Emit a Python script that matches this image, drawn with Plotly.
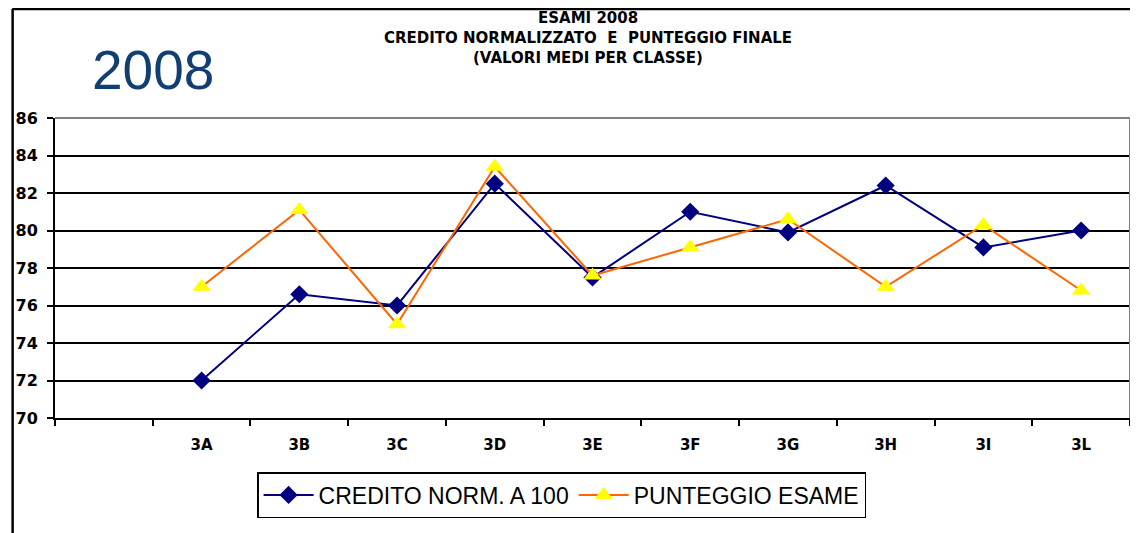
import plotly.graph_objects as go

# Classes (first slot is an empty category, as in the original sheet)
classes = [" ", "3A", "3B", "3C", "3D", "3E", "3F", "3G", "3H", "3I", "3L"]
credito = [None, 72.0, 76.6, 76.0, 82.5, 77.5, 81.0, 79.9, 82.4, 79.1, 80.0]
punteggio = [None, 77.0, 81.1, 75.0, 83.4, 77.6, 79.1, 80.6, 77.0, 80.3, 76.8]

# page has an 8px body margin: lay out in page pixels and shift
OFF = 8
W, H = 1138 - OFF, 533 - OFF
L, R, T, B = 52 - OFF, 1130 - OFF, 118 - OFF, 418 - OFF
BOLD = "DejaVu Sans"
REG = "Liberation Sans, Arial"


def px(x):
    return (x - OFF - L) / (R - L)


def py(y):
    return (B - (y - OFF)) / (B - T)


fig = go.Figure()
fig.add_trace(
    go.Scatter(
        x=classes,
        y=credito,
        name="CREDITO NORM. A 100",
        mode="lines+markers",
        line=dict(color="#000080", width=2),
        marker=dict(symbol="diamond", size=14, color="#000080"),
    )
)
fig.add_trace(
    go.Scatter(
        x=classes,
        y=punteggio,
        name="PUNTEGGIO ESAME",
        mode="lines+markers",
        line=dict(color="#FF6600", width=2),
        marker=dict(symbol="triangle-up", size=16, color="#FFFF00"),
    )
)

shapes = [
    # outer frame (top and left)
    dict(type="line", xref="paper", yref="paper", x0=px(9), x1=px(1137), y0=py(9), y1=py(9),
         line=dict(color="black", width=2.5)),
    dict(type="line", xref="paper", yref="paper", x0=px(9.5), x1=px(9.5), y0=py(9), y1=py(540),
         line=dict(color="black", width=2.5)),
    # plot area border top/right in gray
    dict(type="line", xref="paper", yref="paper", x0=0, x1=1, y0=1, y1=1,
         line=dict(color="#808080", width=2), layer="above"),
    dict(type="line", xref="paper", yref="paper", x0=1, x1=1, y0=0, y1=1,
         line=dict(color="#808080", width=2), layer="above"),
]

title_lines = [
    "ESAMI 2008",
    "CREDITO NORMALIZZATO&nbsp; E&nbsp; PUNTEGGIO FINALE",
    "(VALORI MEDI PER CLASSE)",
]
annotations = [
    dict(text=t, xref="paper", yref="paper", x=px(586), y=py(18 + 20 * i), showarrow=False,
         xanchor="center", yanchor="middle", font=dict(family=BOLD, size=15, color="black", weight="bold"))
    for i, t in enumerate(title_lines)
]
annotations.append(
    dict(text="2008", xref="paper", yref="paper", x=px(150), y=py(70), showarrow=False,
         xanchor="center", yanchor="middle", font=dict(family=REG, size=55, color="#123F73"))
)

fig.update_layout(
    width=W,
    height=H,
    margin=dict(l=L, r=W - R, t=T, b=H - B),
    plot_bgcolor="white",
    paper_bgcolor="white",
    showlegend=True,
    legend=dict(
        orientation="h",
        x=px(560),
        y=py(495),
        xanchor="center",
        yanchor="middle",
        bordercolor="black",
        borderwidth=1.5,
        font=dict(family=REG, size=23, color="black"),
        itemwidth=50,
        tracegroupgap=0,
    ),
    xaxis=dict(
        type="category",
        categoryorder="array",
        categoryarray=classes,
        range=[-0.5, len(classes) - 0.5],
        showgrid=False,
        showline=True,
        linecolor="black",
        linewidth=2,
        ticks="outside",
        tickson="boundaries",
        ticklen=6,
        tickwidth=1.5,
        tickcolor="black",
        ticklabelstandoff=12,
        tickfont=dict(family=BOLD, size=15, color="black", weight="bold"),
        zeroline=False,
    ),
    yaxis=dict(
        range=[70, 86],
        dtick=2,
        showgrid=True,
        gridcolor="black",
        gridwidth=1.5,
        showline=True,
        linecolor="black",
        linewidth=2,
        ticks="outside",
        ticklen=6,
        tickwidth=1.5,
        tickcolor="black",
        ticklabelstandoff=6,
        tickfont=dict(family=BOLD, size=16, color="black", weight="bold"),
        zeroline=False,
    ),
    shapes=shapes,
    annotations=annotations,
)

fig.write_html("out.html")
